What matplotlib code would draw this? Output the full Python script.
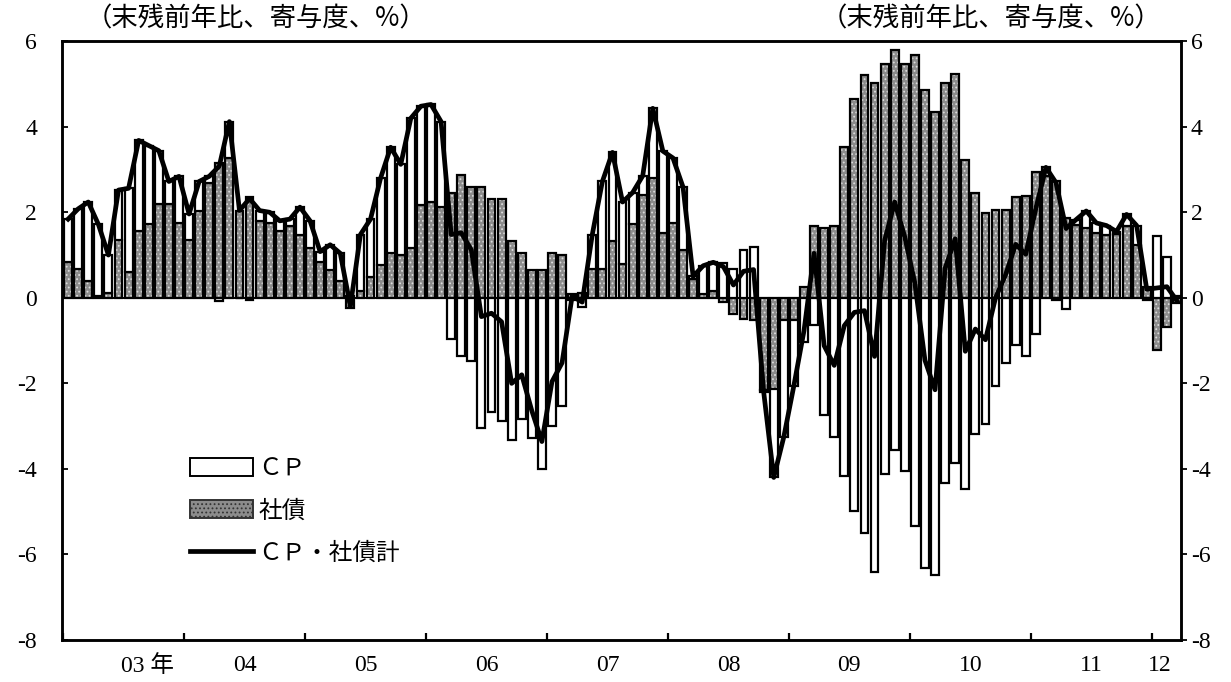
import numpy as np
import matplotlib
matplotlib.use('Agg')
import matplotlib.pyplot as plt
from matplotlib.patches import Patch
from matplotlib.lines import Line2D

plt.rcParams['font.family'] = ['Liberation Serif', 'Noto Sans CJK JP']
plt.rcParams['axes.unicode_minus'] = False
plt.rcParams['hatch.linewidth'] = 0.8

# monthly, Jan 2003 - Mar 2012 (contribution, %)
bonds = [
    0.84, 0.68, 0.40, 0.05, 0.12, 1.36, 0.60, 1.56, 1.72, 2.20, 2.20, 1.76,      # 03
    1.36, 2.04, 2.68, 3.16, 3.28, 2.04, 2.36, 1.80, 1.76, 1.56, 1.68, 1.48,      # 04
    1.16, 0.84, 0.64, 0.40, -0.24, 0.16, 0.48, 0.76, 1.04, 1.00, 1.16, 2.16,     # 05
    2.24, 2.12, 2.44, 2.88, 2.60, 2.60, 2.32, 2.32, 1.32, 1.04, 0.64, 0.64,      # 06
    1.04, 1.00, 0.10, 0.12, 0.68, 0.68, 1.32, 0.80, 1.72, 2.40, 2.79, 1.51,      # 07
    1.75, 1.11, 0.45, 0.10, 0.15, -0.09, -0.37, -0.49, -0.53, -2.15, -2.13, -0.53,  # 08
    -0.53, 0.26, 1.68, 1.63, 1.68, 3.52, 4.64, 5.20, 5.03, 5.46, 5.80, 5.46,     # 09
    5.67, 4.85, 4.34, 5.03, 5.24, 3.22, 2.45, 1.98, 2.06, 2.06, 2.36, 2.38,      # 10
    2.94, 2.85, 2.74, 1.87, 1.71, 1.63, 1.51, 1.47, 1.50, 1.67, 1.23, 0.25,      # 11
    -1.22, -0.69, -0.12,                                                         # 12
]
cp = [
    1.00, 1.40, 1.84, 1.67, 0.88, 1.16, 1.96, 2.12, 1.84, 1.24, 0.52, 1.08,
    0.60, 0.68, 0.16, -0.08, 0.84, 0.00, -0.04, 0.24, 0.24, 0.24, 0.16, 0.64,
    0.64, 0.24, 0.60, 0.64, 0.04, 1.32, 1.36, 2.04, 2.48, 2.12, 3.04, 2.32,
    2.28, 2.00, -0.96, -1.36, -1.48, -3.04, -2.68, -2.88, -3.32, -2.84, -3.28, -4.00,
    -3.00, -2.52, -0.06, -0.22, 0.80, 2.04, 2.08, 1.44, 0.74, 0.45, 1.64, 1.92,
    1.52, 1.48, 0.05, 0.65, 0.68, 0.82, 0.67, 1.11, 1.19, -0.05, -2.07, -2.72,
    -1.52, -1.03, -0.64, -2.75, -3.26, -4.17, -4.98, -5.50, -6.40, -4.12, -3.56, -4.04,
    -5.33, -6.31, -6.49, -4.34, -3.86, -4.47, -3.18, -2.96, -2.06, -1.52, -1.11, -1.36,
    -0.85, 0.20, -0.05, -0.25, 0.12, 0.40, 0.24, 0.22, 0.05, 0.28, 0.46, -0.05,
    1.45, 0.95, 0.05,
]
year_labels = ['03 年', '04', '05', '06', '07', '08', '09', '10', '11', '12']
unit_label = '（末残前年比、寄与度、%）'
legend_labels = ['ＣＰ', '社債', 'ＣＰ・社債計']

bonds = np.array(bonds)
cp = np.array(cp)
total = bonds + cp
x = np.arange(len(bonds))
cp_bottom = np.where(np.sign(cp) == np.sign(bonds), bonds, 0)

fig = plt.figure(figsize=(12.31, 6.82), dpi=100)
ax = fig.add_axes([0.0504, 0.0616, 0.909, 0.878])

w = 0.78
bond_face = '#8c8c8c'
ax.bar(x, bonds, width=w, color=bond_face, edgecolor='#dcdcdc', linewidth=0,
       hatch='....', zorder=2)
ax.bar(x, bonds, width=w, fill=False, edgecolor='black', linewidth=1.6, zorder=3)
ax.bar(x, cp, bottom=cp_bottom, width=w, color='white', edgecolor='black',
       linewidth=1.6, zorder=3)
ax.plot(x, total, color='black', lw=3.4, solid_joinstyle='round', zorder=5)

ax.axhline(0, color='black', lw=1.4, zorder=4)

ax.set_xlim(-0.6, 110.4)
ax.set_ylim(-8, 6)
ax.set_yticks(np.arange(-8, 7, 2))
ax.set_xticks([12 * k - 0.5 for k in range(10)])
ax.set_xticklabels([])
label_pos = [7.9] + [12 * k + 5.5 for k in range(1, 9)] + [108.3]
ax.set_xticks(label_pos, minor=True)
ax.set_xticklabels(year_labels, minor=True, fontsize=17)
ax.tick_params(axis='x', which='major', direction='in', length=5, width=1.6)
ax.tick_params(axis='x', which='minor', length=0, pad=11)
ax.tick_params(axis='y', direction='in', length=4, width=1.3, labelsize=17, pad=18)

ax2 = ax.twinx()
ax2.set_ylim(-8, 6)
ax2.set_yticks(np.arange(-8, 7, 2))
ax2.tick_params(axis='y', direction='out', length=4, width=1.3, labelsize=17, pad=3)

for a in (ax, ax2):
    for s in a.spines.values():
        s.set_linewidth(1.8)

fig.text(86 / 1231, 1 - 19 / 682, unit_label, fontsize=19,
         family=['Noto Sans CJK JP'], ha='left', va='center')
fig.text(821 / 1231, 1 - 19 / 682, unit_label, fontsize=19,
         family=['Noto Sans CJK JP'], ha='left', va='center')

handles = [
    Patch(facecolor='white', edgecolor='black', linewidth=1.4),
    Patch(facecolor=bond_face, edgecolor='#333333', hatch='....', linewidth=1.4),
    Line2D([0], [0], color='black', lw=3.4),
]
ax.legend(handles, legend_labels, loc='upper left', bbox_to_anchor=(0.095, 0.34),
          frameon=False, handlelength=2.7, handleheight=0.8, handletextpad=0.2,
          labelspacing=0.8, prop={'family': ['Noto Sans CJK JP'], 'size': 17})

fig.savefig('out.png', dpi=100)
